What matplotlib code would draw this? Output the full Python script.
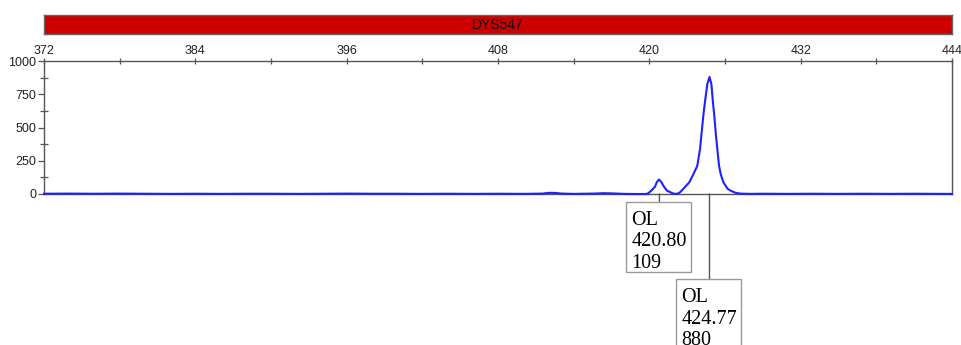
import matplotlib
matplotlib.use("Agg")
import matplotlib.pyplot as plt
from matplotlib.transforms import ScaledTranslation
from matplotlib.path import Path
from matplotlib.patches import PathPatch

# ---------------- data ----------------
marker_name = "DYS547"
x_range = [372, 444]
x_ticks = [372, 384, 396, 408, 420, 432, 444]
y_ticks = [0, 250, 500, 750, 1000]

trace_size = [372.0, 374.0, 376.0, 378.0, 380.0, 382.0, 384.0, 386.0, 388.0,
              390.0, 392.0, 394.0, 396.0, 398.0, 400.0, 402.0, 404.0, 406.0,
              408.0, 410.0, 411.5, 412.1, 412.5, 413.1, 414.0, 415.5, 416.4,
              416.9, 418.0, 419.0, 419.7, 419.92, 420.2, 420.45, 420.6, 420.77,
              420.95, 421.16, 421.4, 421.9, 422.2, 422.4, 422.56, 423.17, 423.5,
              423.8, 424.02, 424.15, 424.28, 424.44, 424.6, 424.77, 424.92, 425.02,
              425.15, 425.26, 425.39, 425.53, 425.66, 425.87, 426.2, 426.45, 426.8,
              427.2, 428.0, 429.0, 431.0, 433.0, 435.0, 437.0, 439.0, 441.0,
              443.0, 444.0]
trace_rfu = [2, 3, 2, 3, 2, 1, 2, 1, 2,
             2, 1, 2, 3, 2, 2, 1, 2, 1,
             2, 1, 3, 9, 8, 3, 1, 3, 6,
             5, 1, 0, 0, 5, 30, 55, 90, 109,
             90, 55, 25, 3, 1, 10, 25, 88, 150,
             211, 338, 464, 589, 714, 827, 880, 827, 714,
             589, 464, 338, 211, 150, 88, 40, 25, 10,
             3, 1, 2, 1, 2, 1, 2, 1, 2,
             1, 1]

peak_alleles = ["OL", "OL"]
peak_sizes = [420.80, 424.77]
peak_heights = [109, 880]

# ---------------- figure ----------------
DPI = 100
W, H = 961, 345
fig = plt.figure(figsize=(W / DPI, H / DPI), dpi=DPI)


def fx(px):
    return px / W


def fy(py):
    return 1 - py / H


axis_col = "#555555"

# red marker bar
bar_ax = fig.add_axes([fx(44), fy(34), fx(952) - fx(44), fy(15) - fy(34)])
bar_ax.set_xlim(0, 1)
bar_ax.set_ylim(0, 1)
bar_ax.set_facecolor("#cc0000")
for s in bar_ax.spines.values():
    s.set_color("#666666")
    s.set_linewidth(1.0)
bar_ax.set_xticks([])
bar_ax.set_yticks([])
bar_ax.text(0.5, 0.45, marker_name, ha="center", va="center",
            fontsize=10, family="Liberation Sans", color="#111111")

# main axes
ax = fig.add_axes([fx(44), fy(194), fx(952) - fx(44), fy(61) - fy(194)])
ax.set_xlim(*x_range)
ax.set_ylim(0, 1000)
for s in ax.spines.values():
    s.set_color(axis_col)
    s.set_linewidth(1.0)

ax.plot(trace_size, trace_rfu, color="#1f1fff", lw=1.5, clip_on=False, zorder=3,
        solid_joinstyle="round")

ax.xaxis.tick_top()
ax.set_xticks(x_ticks)
ax.set_xticks([x + 6 for x in x_ticks[:-1]], minor=True)
ax.set_yticks(y_ticks)
ax.set_yticks([y + 125 for y in y_ticks[:-1]], minor=True)
ax.tick_params(axis="x", which="both", direction="inout", length=5, width=0.9,
               color=axis_col, pad=0.5, labelsize=9, top=True, bottom=False)
ax.tick_params(axis="y", which="major", direction="out", length=4.5, width=0.9,
               color=axis_col, pad=1, labelsize=9)
ax.tick_params(axis="y", which="minor", direction="inout", length=5.5, width=0.9,
               color=axis_col)
for lab in ax.get_xticklabels() + ax.get_yticklabels():
    lab.set_family("Liberation Sans")
    lab.set_color("#222222")

# peak label boxes (offsets in pixels below the baseline)
box_tops = [8, 85]
box_h = 70
fig.canvas.draw()
for allele, size, height, top in zip(peak_alleles, peak_sizes, peak_heights, box_tops):
    ax.annotate("", xy=(size, 0), xycoords=ax.get_xaxis_transform(),
                xytext=(0, -top * 72 / DPI), textcoords="offset points",
                arrowprops=dict(arrowstyle="-", color=axis_col, lw=1.0,
                                shrinkA=0, shrinkB=0),
                annotation_clip=False)
    px0, py0 = ax.get_xaxis_transform().transform((size, 0))
    xs = [-33, 32, 32, -33, -33]
    ys = [-top, -top, -top - box_h, -top - box_h, -top]
    verts = [(x / DPI, y / DPI) for x, y in zip(xs, ys)]
    pp = PathPatch(Path(verts), facecolor="white", edgecolor="#9a9a9a", lw=1.0,
                   clip_on=False, zorder=4,
                   transform=fig.dpi_scale_trans + ScaledTranslation(
                       px0 / DPI, py0 / DPI, fig.dpi_scale_trans))
    fig.add_artist(pp)
    lines = [allele, f"{size:.2f}", f"{height}"]
    for k, t in enumerate(lines):
        fig.text((px0 - 28) / W, (py0 - top - 23 - 21.5 * k) / H, t,
                 ha="left", va="baseline", fontsize=14.5,
                 family="Liberation Serif", color="black", zorder=5)

fig.savefig("out.png", dpi=DPI)
